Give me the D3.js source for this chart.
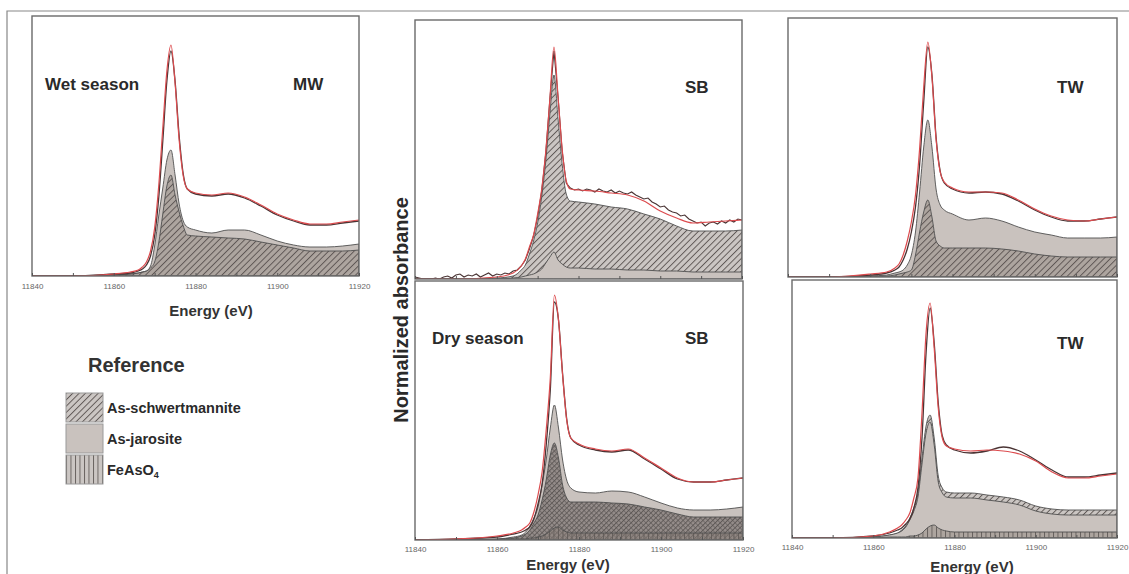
<!DOCTYPE html>
<html>
<head>
<meta charset="utf-8">
<script src="https://cdn.jsdelivr.net/npm/d3@7"></script>
<style>
  body { margin: 0; background: #fff; }
  svg { display: block; font-family: Arial, "Liberation Sans", sans-serif; }
  .tick text { fill: #666; font-size: 8px; }
  .tick line { stroke: #555; }
</style>
</head>
<body>
<svg width="1129" height="574"></svg>
<script>

// energy grid (eV) shared by all the smooth curves
const energy = [11840, 11850, 11860, 11864, 11866, 11867, 11868, 11869, 11870, 11871, 11872, 11873, 11874, 11875,
                11876, 11877, 11878, 11880, 11884, 11888, 11892, 11896, 11900, 11904, 11908, 11912, 11916, 11920];

// wet season - MW
const mwData     = [0, 0, 0.02, 0.03, 0.05, 0.07, 0.11, 0.20, 0.40, 0.78, 1.35, 1.95, 2.25, 1.95, 1.40, 1.02, 0.87, 0.82, 0.80, 0.82, 0.78, 0.70, 0.61, 0.55, 0.51, 0.51, 0.53, 0.55];
const mwFit      = [0, 0, 0.02, 0.04, 0.06, 0.09, 0.14, 0.25, 0.48, 0.90, 1.48, 2.05, 2.31, 1.93, 1.36, 1.00, 0.87, 0.83, 0.81, 0.83, 0.79, 0.71, 0.62, 0.56, 0.52, 0.52, 0.54, 0.56];
const mwJarosite = [0, 0, 0.01, 0.02, 0.03, 0.04, 0.05, 0.10, 0.30, 0.60, 0.88, 1.16, 1.26, 1.01, 0.72, 0.55, 0.49, 0.46, 0.43, 0.46, 0.46, 0.41, 0.35, 0.31, 0.29, 0.29, 0.30, 0.32];
const mwSchwert  = [0, 0, 0.01, 0.02, 0.03, 0.04, 0.05, 0.08, 0.14, 0.33, 0.62, 0.90, 1.01, 0.81, 0.64, 0.50, 0.41, 0.40, 0.39, 0.38, 0.37, 0.34, 0.31, 0.28, 0.25, 0.25, 0.25, 0.26];

// wet season - SB (noisy measured spectrum, 1 eV steps: 11840 ... 11920)
const sbWetData = [0.02, 0.01, 0.00, 0.00, 0.00, 0.01, 0.00, 0.02, 0.03, 0.01, 0.04, 0.05, 0.02, 0.04, 0.03, 0.05, 0.02, 0.04, 0.06, 0.03,
                   0.05, 0.04, 0.06, 0.05, 0.08, 0.09, 0.13,
                   0.19, 0.30, 0.43, 0.62, 0.88, 1.26, 1.80, 2.28, 1.82, 1.28, 0.96,
                   0.91, 0.89, 0.90, 0.88, 0.90, 0.89, 0.87, 0.90, 0.88, 0.87, 0.89, 0.86, 0.88, 0.86, 0.85, 0.87, 0.84, 0.82, 0.80, 0.81,
                   0.77, 0.75, 0.72, 0.73, 0.69, 0.67, 0.66, 0.63, 0.64, 0.60, 0.58, 0.56, 0.57, 0.53, 0.56, 0.57, 0.55, 0.58, 0.56, 0.59,
                   0.57, 0.60, 0.59];
const sbWetFit      = [0, 0, 0.02, 0.06, 0.13, 0.20, 0.32, 0.44, 0.65, 0.90, 1.28, 1.80, 2.32, 1.82, 1.30, 0.98, 0.90, 0.89, 0.88, 0.86, 0.84, 0.78, 0.68, 0.61, 0.56, 0.57, 0.58, 0.59];
const sbWetSchwert  = [0, 0, 0.01, 0.03, 0.09, 0.14, 0.25, 0.38, 0.56, 0.82, 1.18, 1.65, 2.04, 1.60, 1.15, 0.85, 0.78, 0.77, 0.75, 0.72, 0.70, 0.65, 0.60, 0.53, 0.48, 0.48, 0.48, 0.49];
const sbWetJarosite = [0, 0, 0, 0.01, 0.02, 0.03, 0.04, 0.05, 0.07, 0.10, 0.16, 0.22, 0.27, 0.19, 0.15, 0.12, 0.11, 0.11, 0.10, 0.10, 0.09, 0.09, 0.08, 0.08, 0.07, 0.07, 0.07, 0.07];

// wet season - TW
const twWetData     = [0, 0, 0.02, 0.04, 0.07, 0.10, 0.17, 0.28, 0.45, 0.70, 1.12, 1.75, 2.30, 2.02, 1.40, 1.06, 0.94, 0.88, 0.84, 0.85, 0.83, 0.76, 0.67, 0.60, 0.56, 0.56, 0.58, 0.60];
const twWetFit      = [0, 0, 0.03, 0.05, 0.09, 0.13, 0.22, 0.36, 0.55, 0.82, 1.28, 1.90, 2.35, 2.00, 1.38, 1.05, 0.95, 0.89, 0.85, 0.85, 0.84, 0.77, 0.68, 0.61, 0.57, 0.56, 0.58, 0.60];
const twWetJarosite = [0, 0, 0.01, 0.02, 0.04, 0.05, 0.07, 0.12, 0.22, 0.45, 0.85, 1.30, 1.57, 1.30, 0.88, 0.72, 0.67, 0.63, 0.57, 0.59, 0.56, 0.50, 0.45, 0.42, 0.39, 0.39, 0.39, 0.40];
const twWetSchwert  = [0, 0, 0.01, 0.01, 0.02, 0.03, 0.04, 0.05, 0.07, 0.22, 0.45, 0.65, 0.77, 0.60, 0.36, 0.31, 0.29, 0.29, 0.29, 0.29, 0.28, 0.26, 0.23, 0.21, 0.20, 0.20, 0.20, 0.20];

// dry season - SB
const sbDryData     = [0, 0.01, 0.03, 0.06, 0.08, 0.10, 0.13, 0.21, 0.36, 0.56, 0.95, 1.50, 2.38, 2.20, 1.66, 1.21, 1.02, 0.95, 0.90, 0.88, 0.90, 0.81, 0.71, 0.61, 0.58, 0.58, 0.60, 0.62];
const sbDryFit      = [0, 0.01, 0.04, 0.07, 0.10, 0.13, 0.17, 0.28, 0.45, 0.68, 1.10, 1.62, 2.45, 2.20, 1.65, 1.20, 1.02, 0.96, 0.91, 0.89, 0.91, 0.82, 0.72, 0.62, 0.58, 0.58, 0.60, 0.62];
const sbDryJarosite = [0, 0, 0.01, 0.03, 0.05, 0.08, 0.14, 0.22, 0.33, 0.55, 0.80, 1.12, 1.35, 1.12, 0.80, 0.60, 0.52, 0.48, 0.47, 0.49, 0.48, 0.43, 0.37, 0.32, 0.30, 0.30, 0.31, 0.33];
const sbDrySchwert  = [0, 0, 0.01, 0.02, 0.04, 0.06, 0.10, 0.17, 0.25, 0.40, 0.60, 0.85, 0.97, 0.82, 0.55, 0.42, 0.38, 0.38, 0.38, 0.37, 0.36, 0.33, 0.30, 0.26, 0.23, 0.23, 0.23, 0.23];
const sbDryFeAsO4   = [0, 0, 0, 0.01, 0.01, 0.01, 0.02, 0.02, 0.03, 0.04, 0.06, 0.09, 0.12, 0.13, 0.10, 0.08, 0.07, 0.07, 0.07, 0.07, 0.07, 0.07, 0.07, 0.07, 0.07, 0.07, 0.07, 0.07];

// dry season - TW
const twDryData     = [0, 0, 0.02, 0.05, 0.08, 0.10, 0.14, 0.19, 0.30, 0.50, 1.00, 1.85, 2.30, 1.95, 1.35, 1.02, 0.93, 0.88, 0.85, 0.87, 0.91, 0.87, 0.78, 0.68, 0.61, 0.61, 0.63, 0.65];
const twDryFit      = [0, 0, 0.02, 0.06, 0.10, 0.13, 0.18, 0.25, 0.40, 0.60, 1.25, 2.05, 2.35, 1.90, 1.30, 1.00, 0.92, 0.89, 0.87, 0.88, 0.87, 0.84, 0.77, 0.66, 0.60, 0.60, 0.62, 0.64];
const twDrySchwert  = [0, 0, 0.01, 0.03, 0.05, 0.08, 0.12, 0.20, 0.30, 0.45, 0.80, 1.12, 1.23, 1.00, 0.62, 0.50, 0.46, 0.45, 0.45, 0.43, 0.41, 0.38, 0.32, 0.29, 0.28, 0.28, 0.28, 0.28];
const twDryJarosite = [0, 0, 0.01, 0.03, 0.05, 0.07, 0.11, 0.18, 0.27, 0.41, 0.74, 1.05, 1.16, 0.93, 0.56, 0.45, 0.41, 0.40, 0.40, 0.38, 0.36, 0.33, 0.27, 0.24, 0.23, 0.23, 0.23, 0.23];
const twDryFeAsO4   = [0, 0, 0, 0.01, 0.01, 0.01, 0.01, 0.02, 0.02, 0.03, 0.05, 0.09, 0.12, 0.13, 0.10, 0.08, 0.07, 0.06, 0.06, 0.06, 0.06, 0.06, 0.06, 0.06, 0.06, 0.06, 0.06, 0.06];

const xTicks = [11840, 11850, 11860, 11870, 11880, 11890, 11900, 11910, 11920];
const xDomain = [11840, 11920];
const refNames = ['As-schwertmannite', 'As-jarosite', 'FeAsO'];

const fills = {sch: 'url(#hatch)', schDark: 'url(#hatchDark)', jar: '#c9c2be', fea: 'url(#vlines)'};

const svg = d3.select('svg');

//--------------PATTERNS--------------------------------------
const defs = svg.append('defs');
function linePattern(id, size, rotate, bg, stroke, cross) {
  const pat = defs.append('pattern')
      .attr('id', id).attr('patternUnits', 'userSpaceOnUse')
      .attr('width', size).attr('height', size)
      .attr('patternTransform', `rotate(${rotate})`);
  pat.append('rect').attr('width', size).attr('height', size).attr('fill', bg);
  pat.append('line').attr('x1', 0.5).attr('y1', 0).attr('x2', 0.5).attr('y2', size)
      .attr('stroke', stroke).attr('stroke-width', 0.9);
  if (cross) {
    pat.append('line').attr('x1', 0).attr('y1', 0.5).attr('x2', size).attr('y2', 0.5)
        .attr('stroke', stroke).attr('stroke-width', 0.6);
  }
}
linePattern('hatch', 4.5, 45, 'rgba(140,128,122,0.45)', '#595250', false);
linePattern('hatchDark', 3.5, 45, 'rgba(105,97,94,0.55)', '#5b5553', true);
linePattern('vlines', 4.5, 0, 'rgba(140,128,122,0.45)', '#625b58', false);

//--------------FIGURE BORDER---------------------------------
svg.append('path')
    .attr('d', 'M7,574 V11 H1129')
    .attr('fill', 'none').attr('stroke', '#888').attr('stroke-width', 1.2);

//--------------PANELS----------------------------------------
const sbWetE = d3.range(11840, 11921, 1);

const panels = [
  {id: 'mw', left: 32, right: 359, top: 16, bottom: 276, labels: true, pad: 7,
   fit: mwFit, dataE: energy, data: mwData,
   comps: [{key: 'jar', v: mwJarosite}, {key: 'sch', v: mwSchwert}],
   texts: [{t: 'Wet season', x: 45, y: 90}, {t: 'MW', x: 293, y: 90}]},
  {id: 'sbw', left: 415, right: 742, top: 20, bottom: 279, labels: false,
   fit: sbWetFit, dataE: sbWetE, data: sbWetData, noisy: true,
   comps: [{key: 'sch', v: sbWetSchwert}, {key: 'jar', v: sbWetJarosite}],
   texts: [{t: 'SB', x: 685, y: 93}]},
  {id: 'tww', left: 788, right: 1117, top: 18, bottom: 277, labels: false,
   fit: twWetFit, dataE: energy, data: twWetData,
   comps: [{key: 'jar', v: twWetJarosite}, {key: 'sch', v: twWetSchwert}],
   texts: [{t: 'TW', x: 1057, y: 93}]},
  {id: 'sbd', left: 415, right: 743, top: 281, bottom: 540, labels: true, pad: 6,
   fit: sbDryFit, dataE: energy, data: sbDryData,
   comps: [{key: 'jar', v: sbDryJarosite}, {key: 'schDark', v: sbDrySchwert}, {key: 'fea', v: sbDryFeAsO4}],
   texts: [{t: 'Dry season', x: 432, y: 344}, {t: 'SB', x: 685, y: 344}]},
  {id: 'twd', left: 792, right: 1117, top: 280, bottom: 538, labels: true, pad: 6,
   fit: twDryFit, dataE: energy, data: twDryData,
   comps: [{key: 'sch', v: twDrySchwert}, {key: 'jar', v: twDryJarosite}, {key: 'fea', v: twDryFeAsO4}],
   texts: [{t: 'TW', x: 1057, y: 349}]}
];

panels.forEach(p => {
  const x = d3.scaleLinear().domain(xDomain).range([p.left, p.right]);
  const y = d3.scaleLinear().domain([0, (p.bottom - p.top) / 100]).range([p.bottom, p.top]);

  defs.append('clipPath').attr('id', 'clip-' + p.id)
    .append('rect')
      .attr('x', p.left).attr('y', p.top)
      .attr('width', p.right - p.left).attr('height', p.bottom - p.top);

  const g = svg.append('g').attr('clip-path', `url(#clip-${p.id})`);

  const area = d3.area()
      .x((d, i) => x(energy[i]))
      .y0(y(0))
      .y1(d => y(d))
      .curve(d3.curveMonotoneX);

  p.comps.forEach(c => {
    g.append('path')
      .datum(c.v)
      .attr('fill', fills[c.key])
      .attr('stroke', '#4f4f4f')
      .attr('stroke-width', 0.9)
      .attr('d', area);
  });

  const dataLine = d3.line()
      .x((d, i) => x(p.dataE[i]))
      .y(d => y(d))
      .curve(p.noisy ? d3.curveLinear : d3.curveMonotoneX);

  const fitLine = d3.line()
      .x((d, i) => x(energy[i]))
      .y(d => y(d))
      .curve(d3.curveMonotoneX);

  g.append('path')
    .datum(p.data)
    .attr('fill', 'none')
    .attr('stroke', '#4a3434')
    .attr('stroke-width', p.noisy ? 1.1 : 1.3)
    .attr('d', dataLine);

  g.append('path')
    .datum(p.fit)
    .attr('fill', 'none')
    .attr('stroke', '#dc4b4e')
    .attr('stroke-width', 1.2)
    .attr('d', fitLine);

  // frame
  svg.append('rect')
    .attr('x', p.left).attr('y', p.top)
    .attr('width', p.right - p.left).attr('height', p.bottom - p.top)
    .attr('fill', 'none').attr('stroke', '#6a6a6a').attr('stroke-width', 1.4);

  const axis = d3.axisBottom(x)
      .tickValues(xTicks)
      .tickSizeInner(-3)
      .tickSizeOuter(0)
      .tickPadding(p.pad || 6)
      .tickFormat(d => (p.labels && d % 20 === 0) ? d : '');

  const ax = svg.append('g')
      .attr('transform', `translate(0,${p.bottom})`)
      .call(axis);
  ax.select('.domain').remove();

  p.texts.forEach(t => {
    svg.append('text')
      .attr('x', t.x).attr('y', t.y)
      .attr('font-size', 17).attr('font-weight', 'bold')
      .attr('fill', '#2a2a2a')
      .text(t.t);
  });
});

//--------------AXIS TITLES-----------------------------------
[[211, 316], [568, 570], [972, 572]].forEach(([cx, cy]) => {
  svg.append('text')
    .attr('x', cx).attr('y', cy)
    .attr('text-anchor', 'middle')
    .attr('font-size', 15).attr('font-weight', 'bold')
    .attr('fill', '#333')
    .text('Energy (eV)');
});

svg.append('text')
  .attr('transform', 'translate(408,310) rotate(-90)')
  .attr('text-anchor', 'middle')
  .attr('font-size', 20).attr('font-weight', 'bold')
  .attr('fill', '#2a2a2a')
  .text('Normalized absorbance');

//--------------LEGEND----------------------------------------
svg.append('text')
  .attr('x', 88).attr('y', 372)
  .attr('font-size', 20).attr('font-weight', 'bold')
  .attr('fill', '#333')
  .text('Reference');

const legendKeys = ['sch', 'jar', 'fea'];
const legend = svg.append('g').attr('transform', 'translate(66,393)');
legendKeys.forEach((k, i) => {
  const row = legend.append('g').attr('transform', `translate(0,${i * 31})`);
  row.append('rect')
    .attr('width', 37).attr('height', 29)
    .attr('fill', fills[k])
    .attr('stroke', '#9a9a9a').attr('stroke-width', 1);
  const label = row.append('text')
    .attr('x', 41).attr('y', 20)
    .attr('font-size', 14.5).attr('font-weight', 'bold')
    .attr('fill', '#2a2a2a')
    .text(refNames[i]);
  if (k === 'fea') {
    label.append('tspan').attr('font-size', 9).attr('dy', 3).text('4');
  }
});

</script>
</body>
</html>
